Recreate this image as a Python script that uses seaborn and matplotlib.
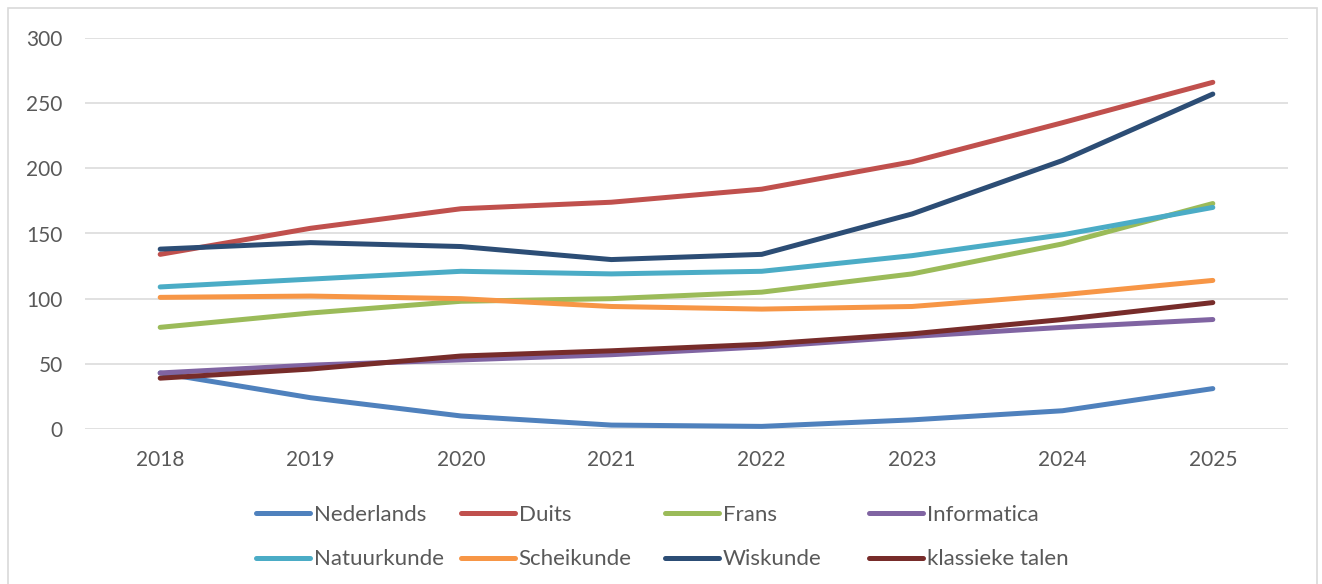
import pandas as pd
import matplotlib.pyplot as plt
import matplotlib.patches as mpatches
import seaborn as sns

years = ["2018", "2019", "2020", "2021", "2022", "2023", "2024", "2025"]
subjects = ["Nederlands", "Duits", "Frans", "Informatica",
            "Natuurkunde", "Scheikunde", "Wiskunde", "klassieke talen"]

nederlands = [43, 24, 10, 3, 2, 7, 14, 31]
duits = [134, 154, 169, 174, 184, 205, 235, 266]
frans = [78, 89, 98, 100, 105, 119, 142, 173]
informatica = [43, 49, 53, 57, 63, 71, 78, 84]
natuurkunde = [109, 115, 121, 119, 121, 133, 149, 170]
scheikunde = [101, 102, 100, 94, 92, 94, 103, 114]
wiskunde = [138, 143, 140, 130, 134, 165, 206, 257]
klassieke_talen = [39, 46, 56, 60, 65, 73, 84, 97]

series = [nederlands, duits, frans, informatica,
          natuurkunde, scheikunde, wiskunde, klassieke_talen]
colors = ["#4F81BD", "#C0504D", "#9BBB59", "#8064A2",
          "#4BACC6", "#F79646", "#2C4D75", "#772C2A"]

sns.set_theme(style="white")
plt.rcParams["font.family"] = ["Lato", "DejaVu Sans"]

rows = []
for name, vals in zip(subjects, series):
    for i, v in enumerate(vals):
        rows.append({"Jaar": i, "Vak": name, "Aantal": v})
df = pd.DataFrame(rows)

fig = plt.figure(figsize=(13.22, 5.84), dpi=100)
ax = fig.add_axes([85 / 1322, 1 - 429 / 584, (1288 - 85) / 1322, (429 - 38) / 584])

sns.lineplot(data=df, x="Jaar", y="Aantal", hue="Vak", hue_order=subjects,
             palette=colors, linewidth=3.6, ax=ax, legend=True)
for line in ax.get_lines():
    line.set_solid_capstyle("round")
    line.set_solid_joinstyle("round")

ax.set_xlim(-0.5, 7.5)
ax.set_ylim(0, 300)
ax.set_yticks(range(0, 301, 50))
ax.set_xticks(range(len(years)))
ax.set_xticklabels(years)
ax.set_xlabel("")
ax.set_ylabel("")
ax.yaxis.grid(True, color="#D9D9D9", linewidth=1.1)
ax.set_axisbelow(True)
for s in ax.spines.values():
    s.set_visible(False)
ax.tick_params(axis="both", length=0, labelsize=15, labelcolor="#595959")
ax.tick_params(axis="y", pad=16)
ax.tick_params(axis="x", pad=15)

handles, labels = ax.get_legend_handles_labels()
ax.get_legend().remove()
for h in handles:
    h.set_linewidth(3.6)
    h.set_solid_capstyle("round")

col_x = [256, 461, 665, 869]
for c in range(4):
    lg = fig.legend([handles[c], handles[c + 4]], [labels[c], labels[c + 4]],
                    loc="upper left", bbox_to_anchor=(col_x[c] / 1322, 1 - 505 / 584),
                    frameon=False, fontsize=16, handlelength=2.45, handletextpad=0.15,
                    labelspacing=1.1, borderaxespad=0, borderpad=0)
    for t in lg.get_texts():
        t.set_color("#595959")

border = mpatches.Rectangle((8 / 1322, -0.1), (1317 - 8) / 1322, 1.1 - 8 / 584,
                            transform=fig.transFigure, fill=False,
                            edgecolor="#D9D9D9", linewidth=1.2)
fig.patches.append(border)

fig.savefig("out.png", dpi=100)
